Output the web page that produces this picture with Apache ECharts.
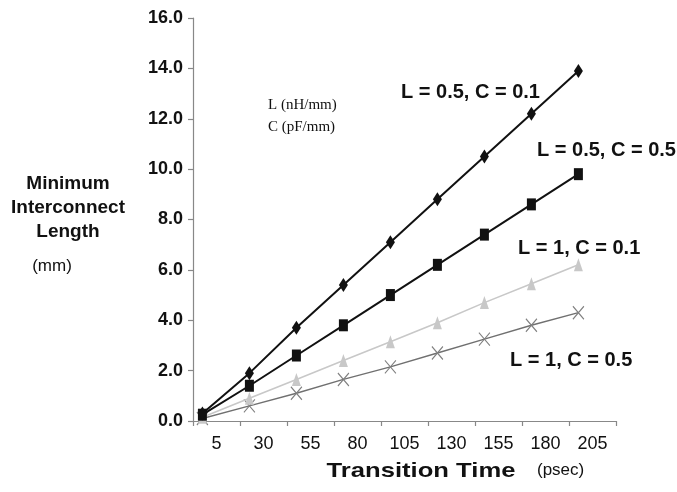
<!DOCTYPE html>
<html>
<head>
<meta charset="utf-8">
<script src="https://cdn.jsdelivr.net/npm/echarts@6/dist/echarts.min.js"></script>
<style>html,body{margin:0;padding:0;background:#fff;}#c{width:677px;height:492px;}</style>
</head>
<body>
<div id="c"></div>
<script>
var categories = ['5', '30', '55', '80', '105', '130', '155', '180', '205'];
var transitionTimes = [5, 30, 55, 80, 105, 130, 155, 180, 205];
var l05c01 = [0.3, 1.9, 3.7, 5.4, 7.1, 8.8, 10.5, 12.2, 13.9];
var l05c05 = [0.25, 1.4, 2.6, 3.8, 5.0, 6.2, 7.4, 8.6, 9.8];
var l1c01 = [0.15, 0.9, 1.65, 2.4, 3.15, 3.9, 4.7, 5.45, 6.2];
var l1c05 = [0.1, 0.6, 1.1, 1.65, 2.15, 2.7, 3.25, 3.8, 4.3];
var yTicks = { min: 0, max: 16, interval: 2 };

function pairs(ys) { return transitionTimes.map(function (x, i) { return [x, ys[i]]; }); }

var chart = echarts.init(document.getElementById('c'), null, { renderer: 'canvas' });
var F = 'Liberation Sans, Arial, sans-serif';
var SERIF = 'Liberation Serif, Times New Roman, serif';
var xPath = 'path://M0,0L10,12M10,0L0,12';

function txt(x, y, s, font, align, extra) {
  var o = { type: 'text', x: x, y: y, style: { text: s, font: font, fill: '#111', align: align || 'left', verticalAlign: 'middle' } };
  if (extra) { for (var k in extra) o[k] = extra[k]; }
  return o;
}

chart.setOption({
  animation: false,
  backgroundColor: '#fff',
  grid: { left: 193, right: 61, top: 18, bottom: 71 },
  xAxis: [
    {
      type: 'category', data: categories, boundaryGap: true, position: 'bottom',
      axisLine: { show: false }, axisTick: { show: false }, splitLine: { show: false },
      axisLabel: { color: '#111', fontFamily: F, fontSize: 18, margin: 14, interval: 0 }
    },
    {
      type: 'value', min: 0, max: 225, interval: 25, position: 'bottom',
      axisLine: { show: true, lineStyle: { color: '#888', width: 1.2 } },
      axisTick: { show: true, length: 5, lineStyle: { color: '#888', width: 1.2 } },
      axisLabel: { show: false }, splitLine: { show: false }
    }
  ],
  yAxis: {
    type: 'value', min: yTicks.min, max: yTicks.max, interval: yTicks.interval,
    axisLine: { show: true, lineStyle: { color: '#888', width: 1.2 } },
    axisTick: { show: true, length: 5, lineStyle: { color: '#888', width: 1.2 } },
    splitLine: { show: false },
    axisLabel: { color: '#111', fontFamily: F, fontSize: 18, fontWeight: 'bold', margin: 10,
      formatter: function (v) { return v.toFixed(1); } }
  },
  series: [
    { type: 'line', xAxisIndex: 1, data: pairs(l05c01), symbol: 'diamond', symbolSize: [9, 14],
      lineStyle: { color: '#111', width: 2 }, itemStyle: { color: '#111' }, z: 5 },
    { type: 'line', xAxisIndex: 1, data: pairs(l05c05), symbol: 'rect', symbolSize: [9, 12],
      lineStyle: { color: '#111', width: 2 }, itemStyle: { color: '#111' }, z: 4 },
    { type: 'line', xAxisIndex: 1, data: pairs(l1c01), symbol: 'triangle', symbolSize: [9, 13],
      lineStyle: { color: '#c8c8c8', width: 1.6 }, itemStyle: { color: '#c8c8c8' }, z: 3 },
    { type: 'line', xAxisIndex: 1, data: pairs(l1c05), symbol: xPath, symbolSize: [11, 13],
      lineStyle: { color: '#707070', width: 1.4 },
      itemStyle: { color: 'none', borderColor: '#808080', borderWidth: 1.2 }, z: 2 }
  ],
  graphic: [
    txt(68, 184, 'Minimum', 'bold 19px ' + F, 'center'),
    txt(68, 208, 'Interconnect', 'bold 19px ' + F, 'center'),
    txt(68, 232, 'Length', 'bold 19px ' + F, 'center'),
    txt(52, 266, '(mm)', '17px ' + F, 'center'),
    txt(421, 471, 'Transition Time', 'bold 21px ' + F, 'center', { scaleX: 1.22, originX: 0, originY: 0 }),
    txt(537, 470, '(psec)', '17px ' + F, 'left'),
    txt(268, 105, 'L (nH/mm)', '15px ' + SERIF, 'left'),
    txt(268, 127, 'C (pF/mm)', '15px ' + SERIF, 'left'),
    txt(401, 92, 'L = 0.5, C = 0.1', 'bold 20px ' + F, 'left'),
    txt(537, 150, 'L = 0.5, C = 0.5', 'bold 20px ' + F, 'left'),
    txt(518, 248, 'L = 1, C = 0.1', 'bold 20px ' + F, 'left'),
    txt(510, 360, 'L = 1, C = 0.5', 'bold 20px ' + F, 'left')
  ]
});
</script>
</body>
</html>
